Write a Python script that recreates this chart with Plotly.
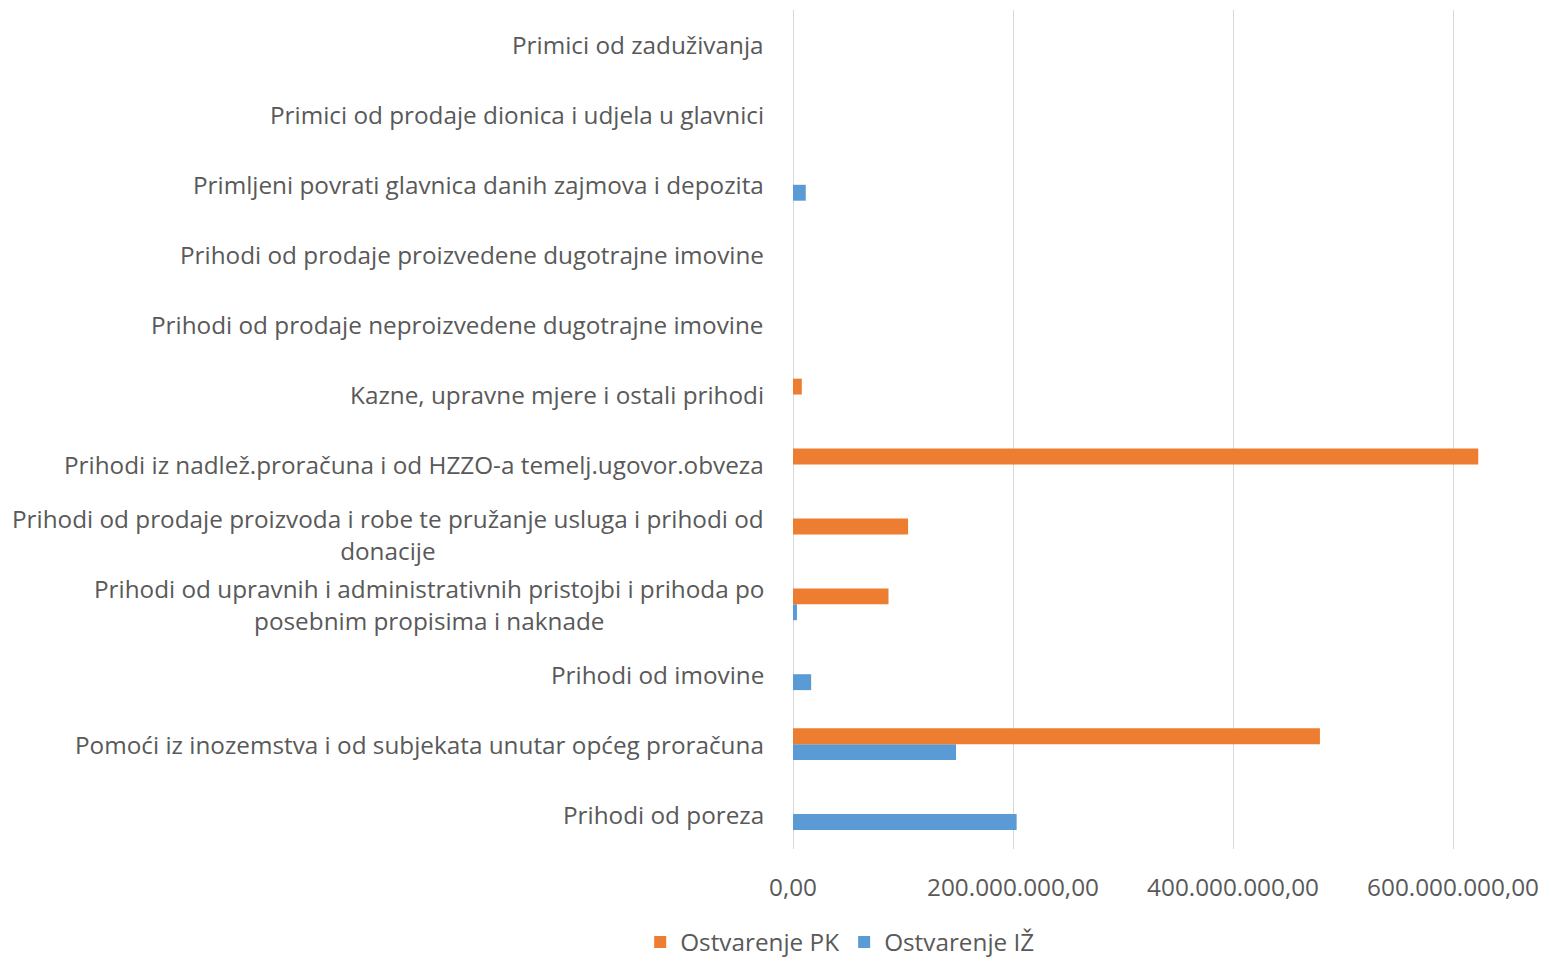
import plotly.graph_objects as go

categories = [
    "Prihodi od poreza",
    "Pomoći iz inozemstva i od subjekata unutar općeg proračuna",
    "Prihodi od imovine",
    "Prihodi od upravnih i administrativnih pristojbi i prihoda po\nposebnim propisima i naknade",
    "Prihodi od prodaje proizvoda i robe te pružanje usluga i prihodi od\ndonacije",
    "Prihodi iz nadlež.proračuna i od HZZO-a temelj.ugovor.obveza",
    "Kazne, upravne mjere i ostali prihodi",
    "Prihodi od prodaje neproizvedene dugotrajne imovine",
    "Prihodi od prodaje proizvedene dugotrajne imovine",
    "Primljeni povrati glavnica danih zajmova i depozita",
    "Primici od prodaje dionica i udjela u glavnici",
    "Primici od zaduživanja",
]
ostvarenje_pk = [0, 479e6, 0, 86.8e6, 104.6e6, 622.9e6, 8e6, 0, 0, 0, 0, 0]
ostvarenje_iz = [203.3e6, 148.2e6, 16.5e6, 3.6e6, 0, 0, 0, 0, 0, 11.6e6, 0, 0]
tick_vals = [0, 200e6, 400e6, 600e6]
tick_text = ["0,00", "200.000.000,00", "400.000.000,00", "600.000.000,00"]

FONT = "Open Sans"
GRAY = "#595959"
FS = 24.3

y_keys = [c.replace("\n", " ") for c in categories]

fig = go.Figure()
fig.add_trace(go.Bar(y=y_keys, x=ostvarenje_iz, orientation="h", name="Ostvarenje IŽ",
                     marker=dict(color="#5b9bd5", line=dict(width=0))))
fig.add_trace(go.Bar(y=y_keys, x=ostvarenje_pk, orientation="h", name="Ostvarenje PK",
                     marker=dict(color="#ed7d31", line=dict(width=0))))

annotations = []
for key, cat in zip(y_keys, categories):
    lines = cat.split("\n")
    annotations.append(dict(
        x=0, xref="paper", y=key, yref="y", xshift=-27,
        text="<br>".join(lines), showarrow=False, align="center",
        xanchor="right", yanchor="middle",
        font=dict(family=FONT, size=FS, color=GRAY),
    ))

fig.update_layout(
    width=1546, height=959,
    paper_bgcolor="white", plot_bgcolor="white",
    margin=dict(l=785, r=8, t=2, b=111),
    barmode="group", bargap=0.545, bargroupgap=0,
    font=dict(family=FONT, color=GRAY),
    xaxis=dict(range=[0, 684.5e6], tickvals=tick_vals, ticktext=tick_text,
               showgrid=True, gridcolor="#d9d9d9", gridwidth=1.3,
               zeroline=True, zerolinecolor="#d9d9d9", zerolinewidth=1.3,
               showline=False, ticks="", ticklabelstandoff=22,
               tickfont=dict(family=FONT, size=FS, color=GRAY)),
    yaxis=dict(categoryorder="array", categoryarray=y_keys, showticklabels=False,
               showgrid=False, zeroline=False, showline=False, ticks=""),
    showlegend=True,
    legend=dict(orientation="h", traceorder="reversed", x=0.062, xanchor="center",
                y=-0.111, yanchor="middle", font=dict(family=FONT, size=FS, color=GRAY)),
    annotations=annotations,
)
fig.write_html("out.html")
